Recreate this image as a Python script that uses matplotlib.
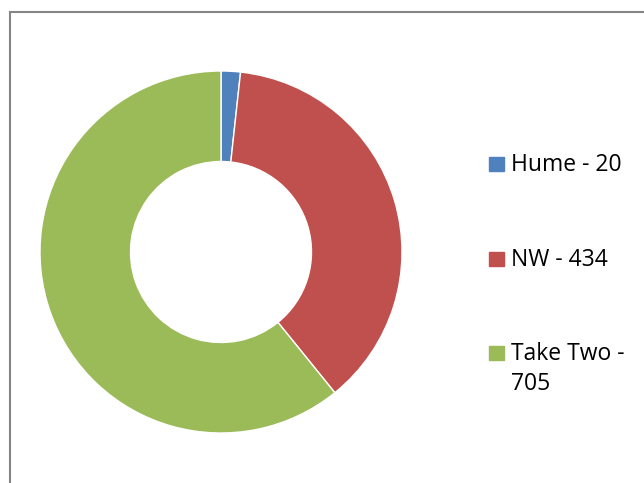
import matplotlib.pyplot as plt
from matplotlib.lines import Line2D

# Data
names = ["Hume", "NW", "Take Two"]
counts = [20, 434, 705]
colors = ["#4F81BD", "#C0504D", "#9BBB59"]

plt.rcParams["font.family"] = ["Open Sans", "DejaVu Sans"]

W, H = 644, 483
fig = plt.figure(figsize=(W / 100, H / 100), dpi=100)

# chart area border (left and top edges visible)
fig.add_artist(Line2D([9.5 / W, 9.5 / W], [0, 1 - 12 / H], color="#868686", lw=1.5))
fig.add_artist(Line2D([9.5 / W, 1], [1 - 12 / H, 1 - 12 / H], color="#868686", lw=1.5))

# donut
cx, cy, r = 221, 252, 181
ax = fig.add_axes([(cx - r) / W, (H - cy - r) / H, 2 * r / W, 2 * r / H])
wedges, _ = ax.pie(counts, colors=colors, startangle=90, counterclock=False,
                   radius=1, wedgeprops=dict(width=0.5, edgecolor="white", linewidth=1))
ax.set_xlim(-1, 1)
ax.set_ylim(-1, 1)
ax.set_aspect("equal")
ax.axis("off")

# legend, label lines wrapped like the original
lines = [[f"{names[0]} - {counts[0]}"],
         [f"{names[1]} - {counts[1]}"],
         [f"{names[2]} -", f"{counts[2]}"]]
sq_x, txt_x = 489, 511
baselines = [171, 266, 360]
for c, lab, yb in zip(colors, lines, baselines):
    fig.patches.append(plt.Rectangle((sq_x / W, 1 - yb / H), 15 / W, 14 / H,
                                     transform=fig.transFigure, color=c))
    for i, line in enumerate(lab):
        fig.text(txt_x / W, 1 - (yb + 30 * i) / H, line, fontsize=16.5,
                 va="baseline", ha="left", color="black")

fig.savefig("out.png", dpi=100)
